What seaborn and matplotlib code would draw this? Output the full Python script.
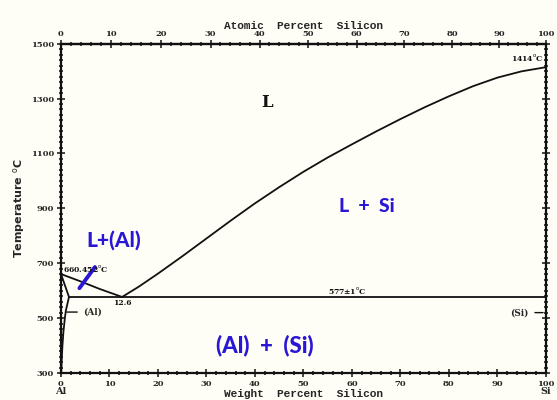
import numpy as np
import pandas as pd
import matplotlib
matplotlib.use("Agg")
import matplotlib.pyplot as plt
import seaborn as sns
from matplotlib.ticker import MultipleLocator

# liquidus (wt% Si, deg C)
liq_al_wt = [0.0, 4.0, 8.0, 12.6]
liq_al_t = [660.452, 634, 606, 577]
liq_si_wt = [12.6, 16, 20, 25, 30, 35, 40, 45, 50, 55, 60, 65, 70, 75,
             80, 85, 90, 95, 100]
liq_si_t = [577, 614, 662, 725, 790, 855, 918, 977, 1033, 1085, 1133,
            1180, 1225, 1268, 1308, 1345, 1376, 1399, 1414]

# (Al) solidus and solvus
sol_wt = [0.0, 1.65]
sol_t = [660.452, 577]
solvus_wt = [1.65, 1.3, 1.0, 0.8, 0.5, 0.3, 0.15, 0.05]
solvus_t = [577, 550, 527, 500, 450, 400, 350, 300]

# eutectic line
eut_wt = [1.65, 100]
eut_t = [577, 577]

y_ticks = [300, 500, 700, 900, 1100, 1300, 1500]
top_ticks = [0, 10, 20, 30, 40, 50, 60, 70, 80, 90, 100]

M_AL, M_SI = 26.982, 28.086


def wt2at(w):
    w = np.asarray(w, dtype=float)
    a = w / M_SI
    b = (100 - w) / M_AL
    return 100 * a / np.where(a + b == 0, 1, a + b)


def at2wt(x):
    x = np.asarray(x, dtype=float)
    a = x * M_SI
    b = (100 - x) * M_AL
    return 100 * a / np.where(a + b == 0, 1, a + b)


sns.set_style("ticks")
paper = "#fefdf6"
ink = "#111111"
pen = "#2a17d6"

fig = plt.figure(figsize=(5.57, 4.0), dpi=100, facecolor=paper)
ax = fig.add_axes([0.1095, 0.0675, 0.8705, 0.8235])
ax.set_facecolor(paper)

lines = [
    (liq_al_wt, liq_al_t),
    (liq_si_wt, liq_si_t),
    (sol_wt, sol_t),
    (solvus_wt, solvus_t),
    (eut_wt, eut_t),
]
for xs, ys in lines:
    df = pd.DataFrame({"wt": xs, "T": ys})
    sns.lineplot(data=df, x="wt", y="T", ax=ax, color=ink, lw=1.3,
                 sort=False, estimator=None)

ax.set_xlim(0, 100)
ax.set_ylim(300, 1500)
ax.set_yticks(y_ticks)
ax.set_xticks(top_ticks)
ax.xaxis.set_minor_locator(MultipleLocator(2))
ax.yaxis.set_minor_locator(MultipleLocator(20))
ax.tick_params(which="both", right=True, direction="inout", width=1.1,
               color=ink, labelsize=6, pad=2)
ax.tick_params(which="major", length=6)
ax.tick_params(which="minor", length=3)
ax.tick_params(axis="y", labelright=False)
for lab in ax.get_xticklabels() + ax.get_yticklabels():
    lab.set_fontfamily("DejaVu Serif")
    lab.set_fontweight("bold")
for sp in ax.spines.values():
    sp.set_linewidth(1.6)
    sp.set_color(ink)

ax.set_xlabel("Weight  Percent  Silicon", family="Liberation Mono",
              weight="bold", fontsize=8, labelpad=1)
ax.set_ylabel("Temperature $^{\\mathrm{o}}$C", family="DejaVu Sans",
              weight="bold", fontsize=8, labelpad=3)

top = ax.secondary_xaxis("top", functions=(wt2at, at2wt))
top.set_xticks(top_ticks)
top.xaxis.set_minor_locator(MultipleLocator(2))
top.tick_params(which="both", direction="inout", width=1.1, color=ink,
                labelsize=6, pad=1)
top.tick_params(which="major", length=6)
top.tick_params(which="minor", length=3)
for lab in top.get_xticklabels():
    lab.set_fontfamily("DejaVu Serif")
    lab.set_fontweight("bold")
top.set_xlabel("Atomic  Percent  Silicon", family="Liberation Mono",
               weight="bold", fontsize=8, labelpad=1)
top.spines["top"].set_linewidth(1.6)

# printed labels
small = dict(family="DejaVu Serif", weight="bold", fontsize=5.5, color=ink)
ax.text(0.4, 662, "660.452$^{\\mathrm{o}}$C", ha="left", va="bottom", **small)
ax.text(12.6, 568, "12.6", ha="center", va="top", **small)
ax.text(55, 580, "577\u00b11$^{\\mathrm{o}}$C", ha="left", va="bottom", **small)
ax.text(99.5, 1430, "1414$^{\\mathrm{o}}$C", ha="right", va="bottom", **small)
ax.annotate("(Al)", xy=(0.6, 522), xytext=(4.6, 522), ha="left",
            va="center", family="DejaVu Serif", weight="bold", fontsize=6.5,
            arrowprops=dict(arrowstyle="-", color=ink, lw=1))
ax.annotate("(Si)", xy=(100, 520), xytext=(96.5, 520), ha="right",
            va="center", family="DejaVu Serif", weight="bold", fontsize=6.5,
            arrowprops=dict(arrowstyle="-", color=ink, lw=1))
ax.text(42.5, 1285, "L", family="DejaVu Serif", weight="bold", fontsize=12,
        ha="center", va="center", color=ink)

# handwritten notes
hand = dict(family="Lato", weight="black", color=pen, ha="center",
            va="center")
ax.text(10.8, 785, "L+(Al)", fontsize=15, **hand)
ax.text(63, 905, "L  +  Si", fontsize=14, **hand)
ax.text(42, 400, "(Al)  +  (Si)", fontsize=16, **hand)
ax.plot([3.8, 7.0], [609, 686], color=pen, lw=2.8, solid_capstyle="round")

ax.text(0, 250, "Al", family="DejaVu Serif", weight="bold", fontsize=7,
        ha="center", va="top")
ax.text(100, 250, "Si", family="DejaVu Serif", weight="bold", fontsize=7,
        ha="center", va="top")

fig.savefig("out.png", dpi=100, facecolor=paper)
